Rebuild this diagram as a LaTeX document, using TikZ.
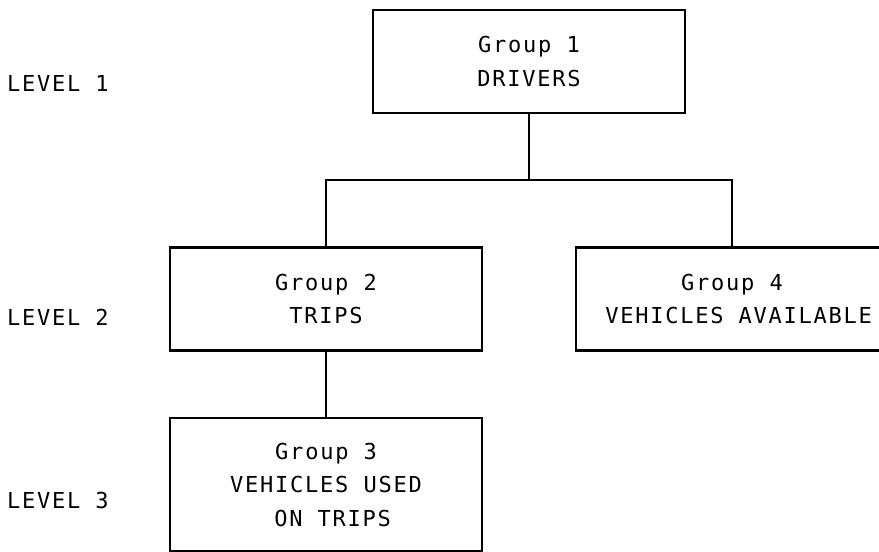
\documentclass[tikz,border=0pt]{standalone}
\usepackage{fontspec}
\newfontfamily\plotfont{DejaVu Sans Mono}[LetterSpace=8]
\usetikzlibrary{positioning}

\begin{document}
\begin{tikzpicture}[x=1pt, y=-1pt, line width=2.2pt,
  every node/.style={font=\plotfont\fontsize{22}{33.5}\selectfont},
  grp/.style={rectangle, draw, align=center, minimum width=312pt, minimum height=103pt, inner sep=0pt},
  lvl/.style={anchor=west, inner sep=0pt}]

\clip (0,0) rectangle (879,552);

\node[grp] (g1) at (529,61.5) {Group 1\\DRIVERS};
\node[grp] (g2) at (326,299) {Group 2\\TRIPS};
\node[grp] (g4) at (732,299) {Group 4\\\hphantom{V}VEHICLES AVAILABLE};
\node[grp, minimum height=133pt] (g3) at (326,484.5) {Group 3\\VEHICLES USED\\\hphantom{V}ON TRIPS};

\node[lvl] (l1) at (6,83) {LEVEL 1};
\node[lvl] (l2) at (6,317) {LEVEL 2};
\node[lvl] (l3) at (6,500) {LEVEL 3};

% collegamenti
\coordinate (j) at (529,180);
\draw (g1) -- (j);
\draw (g2) |- (j) -| (g4);
\draw (g2) -- (g3);

\end{tikzpicture}
\end{document}
